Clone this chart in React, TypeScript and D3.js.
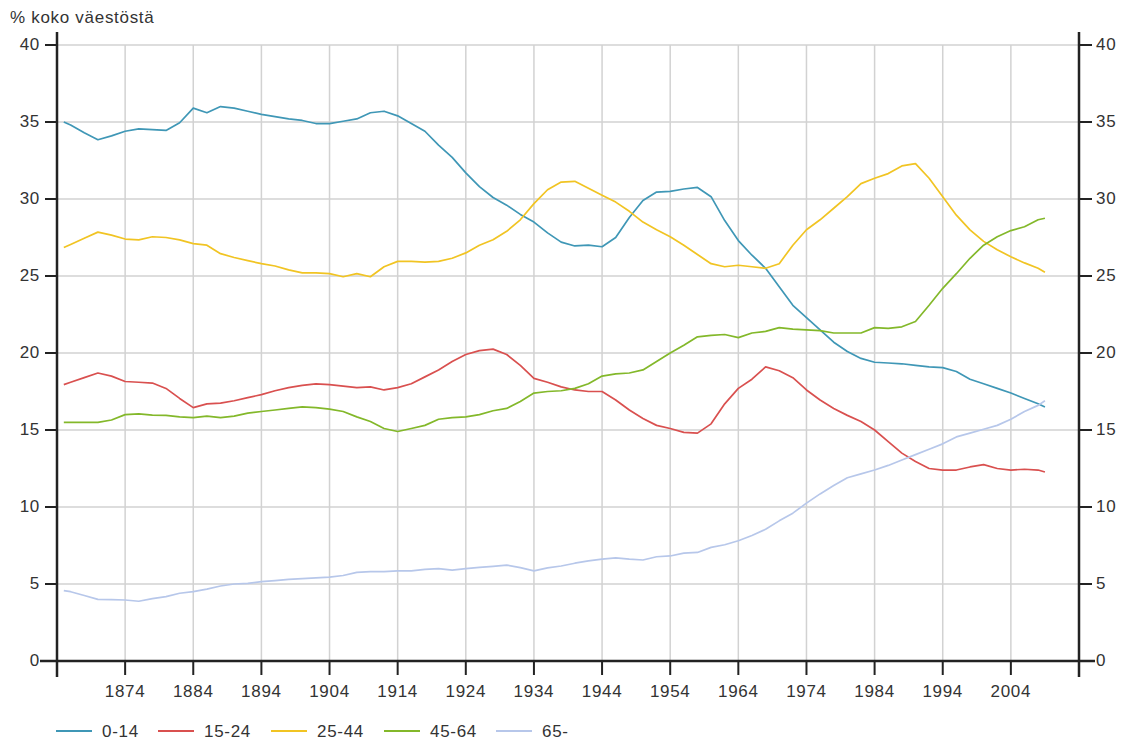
import React, { useEffect, useRef } from 'react'
import * as d3 from 'd3'

// vuodet (x-akseli)
const years = [
  1865, 1866, 1868, 1870, 1872, 1874, 1876, 1878, 1880, 1882, 1884, 1886, 1888, 1890, 1892,
  1894, 1896, 1898, 1900, 1902, 1904, 1906, 1908, 1910, 1912, 1914, 1916, 1918, 1920, 1922,
  1924, 1926, 1928, 1930, 1932, 1934, 1936, 1938, 1940, 1942, 1944, 1946, 1948, 1950, 1952,
  1954, 1956, 1958, 1960, 1962, 1964, 1966, 1968, 1970, 1972, 1974, 1976, 1978, 1980, 1982,
  1984, 1986, 1988, 1990, 1992, 1994, 1996, 1998, 2000, 2002, 2004, 2006, 2008, 2009,
]

const age0_14 = [
  35.0, 34.8, 34.3, 33.85, 34.1, 34.4, 34.55, 34.5, 34.45, 34.95, 35.9, 35.6, 36.0, 35.9, 35.7,
  35.5, 35.35, 35.2, 35.1, 34.9, 34.9, 35.05, 35.2, 35.6, 35.7, 35.4, 34.9, 34.4, 33.5, 32.7,
  31.7, 30.8, 30.1, 29.6, 29.0, 28.5, 27.8, 27.2, 26.95, 27.0, 26.9, 27.5, 28.8, 29.9, 30.45,
  30.5, 30.65, 30.75, 30.15, 28.6, 27.3, 26.35, 25.5, 24.3, 23.1, 22.3, 21.5, 20.7, 20.1, 19.65,
  19.4, 19.35, 19.3, 19.2, 19.1, 19.05, 18.8, 18.3, 18.0, 17.7, 17.4, 17.05, 16.7, 16.5,
]

const age15_24 = [
  17.95, 18.1, 18.4, 18.7, 18.5, 18.15, 18.1, 18.05, 17.7, 17.05, 16.45, 16.7, 16.75, 16.9, 17.1,
  17.3, 17.55, 17.75, 17.9, 18.0, 17.95, 17.85, 17.75, 17.8, 17.6, 17.75, 18.0, 18.45, 18.9, 19.45,
  19.9, 20.15, 20.25, 19.9, 19.2, 18.35, 18.1, 17.8, 17.6, 17.5, 17.5, 16.95, 16.3, 15.75, 15.3,
  15.1, 14.85, 14.8, 15.4, 16.7, 17.7, 18.3, 19.1, 18.85, 18.4, 17.6, 16.95, 16.4, 15.95, 15.55,
  15.0, 14.25, 13.5, 12.95, 12.5, 12.4, 12.4, 12.6, 12.75, 12.5, 12.4, 12.45, 12.4, 12.27,
]

const age25_44 = [
  26.85, 27.05, 27.45, 27.85, 27.65, 27.4, 27.35, 27.55, 27.5, 27.35, 27.1, 27.0, 26.45, 26.2, 26.0,
  25.8, 25.65, 25.4, 25.2, 25.2, 25.15, 24.95, 25.15, 24.95, 25.6, 25.95, 25.95, 25.9, 25.95, 26.15,
  26.5, 27.0, 27.35, 27.9, 28.65, 29.7, 30.6, 31.1, 31.15, 30.7, 30.25, 29.8, 29.2, 28.5, 28.0,
  27.55, 27.0, 26.4, 25.8, 25.6, 25.7, 25.6, 25.5, 25.8, 27.0, 28.0, 28.65, 29.4, 30.15, 31.0,
  31.35, 31.65, 32.15, 32.3, 31.35, 30.15, 28.95, 28.0, 27.25, 26.7, 26.25, 25.85, 25.5, 25.25,
]

const age45_64 = [
  15.5, 15.5, 15.5, 15.5, 15.65, 16.0, 16.05, 15.97, 15.95, 15.85, 15.8, 15.9, 15.8, 15.9, 16.1,
  16.2, 16.3, 16.4, 16.5, 16.45, 16.35, 16.2, 15.85, 15.55, 15.1, 14.9, 15.1, 15.3, 15.7, 15.8,
  15.85, 16.0, 16.25, 16.4, 16.85, 17.4, 17.5, 17.55, 17.7, 18.0, 18.5, 18.65, 18.7, 18.9, 19.45,
  20.0, 20.5, 21.05, 21.15, 21.2, 21.0, 21.3, 21.4, 21.65, 21.55, 21.5, 21.45, 21.3, 21.3, 21.3,
  21.65, 21.6, 21.7, 22.05, 23.1, 24.2, 25.15, 26.15, 27.0, 27.55, 27.95, 28.2, 28.65, 28.75,
]

const age65 = [
  4.57, 4.5, 4.25, 4.0, 3.98, 3.96, 3.88, 4.05, 4.18, 4.4, 4.5, 4.67, 4.87, 5.0, 5.04,
  5.15, 5.22, 5.3, 5.35, 5.4, 5.45, 5.55, 5.75, 5.8, 5.8, 5.85, 5.85, 5.95, 6.0, 5.9,
  6.0, 6.08, 6.15, 6.23, 6.06, 5.85, 6.05, 6.17, 6.35, 6.5, 6.62, 6.7, 6.62, 6.56, 6.77,
  6.82, 7.0, 7.05, 7.38, 7.55, 7.81, 8.15, 8.55, 9.1, 9.6, 10.25, 10.85, 11.4, 11.9, 12.15,
  12.4, 12.7, 13.05, 13.4, 13.75, 14.1, 14.55, 14.8, 15.05, 15.3, 15.7, 16.2, 16.6, 16.9,
]

const seriesNames = ['0-14', '15-24', '25-44', '45-64', '65-']
const seriesValues = [age0_14, age15_24, age25_44, age45_64, age65]
const seriesColors = ['#3f97b6', '#d9504f', '#f1c423', '#83b82a', '#b7c7ea']

const xTicks = [1874, 1884, 1894, 1904, 1914, 1924, 1934, 1944, 1954, 1964, 1974, 1984, 1994, 2004]
const yTicks = [0, 5, 10, 15, 20, 25, 30, 35, 40]

const App = () => {
  const svgRef = useRef<SVGSVGElement>(null)

  useEffect(() => {
    const svg = d3.select(svgRef.current)
    svg.selectAll('*').remove()

    const width = 1124
    const height = 740
    const font = '17px Liberation Sans, Arial, sans-serif'

    const x = d3.scaleLinear().domain([1864, 2014]).range([57, 1079])
    const y = d3.scaleLinear().domain([0, 40]).range([661, 45])

    svg.attr('width', width).attr('height', height)

    // title
    svg.append('text')
      .attr('x', 10).attr('y', 23)
      .style('font', font)
      .style('letter-spacing', '0.7px')
      .attr('fill', '#333')
      .text('% koko väestöstä')

    // grid
    const grid = svg.append('g').attr('stroke', '#d2d2d2').attr('stroke-width', 1.5)
    grid.selectAll('line.h')
      .data(yTicks.filter(d => d > 0))
      .join('line')
      .attr('x1', x(1864)).attr('x2', x(2014))
      .attr('y1', d => y(d)).attr('y2', d => y(d))
    grid.selectAll('line.v')
      .data(xTicks)
      .join('line')
      .attr('class', 'v')
      .attr('x1', d => x(d)).attr('x2', d => x(d))
      .attr('y1', y(40)).attr('y2', y(0))

    // lines
    const line = d3.line<number>()
      .x((d, i) => x(years[i]))
      .y(d => y(d))

    svg.append('g')
      .attr('fill', 'none')
      .attr('stroke-width', 1.7)
      .attr('stroke-linejoin', 'round')
      .selectAll('path')
      .data(seriesValues)
      .join('path')
      .attr('stroke', (d, i) => seriesColors[i])
      .attr('d', d => line(d))

    // axes
    const axes = svg.append('g').attr('stroke', '#222')
    axes.append('line')
      .attr('x1', 40).attr('x2', 1095)
      .attr('y1', y(0)).attr('y2', y(0))
      .attr('stroke-width', 2.5)
    axes.append('line')
      .attr('x1', x(1864)).attr('x2', x(1864))
      .attr('y1', 32).attr('y2', 677)
      .attr('stroke-width', 2.5)
    axes.append('line')
      .attr('x1', x(2014)).attr('x2', x(2014))
      .attr('y1', 32).attr('y2', 677)
      .attr('stroke-width', 2.5)

    axes.selectAll('line.yl')
      .data(yTicks)
      .join('line')
      .attr('class', 'yl')
      .attr('x1', 45).attr('x2', x(1864))
      .attr('y1', d => y(d)).attr('y2', d => y(d))
      .attr('stroke-width', 2)
    axes.selectAll('line.yr')
      .data(yTicks)
      .join('line')
      .attr('class', 'yr')
      .attr('x1', x(2014)).attr('x2', 1092)
      .attr('y1', d => y(d)).attr('y2', d => y(d))
      .attr('stroke-width', 2)
    axes.selectAll('line.xt')
      .data(xTicks)
      .join('line')
      .attr('class', 'xt')
      .attr('x1', d => x(d)).attr('x2', d => x(d))
      .attr('y1', y(0)).attr('y2', 675)
      .attr('stroke-width', 2)

    const labels = svg.append('g')
      .style('font', font)
      .style('letter-spacing', '0.7px')
      .attr('fill', '#333')

    labels.selectAll('text.yl')
      .data(yTicks)
      .join('text')
      .attr('class', 'yl')
      .attr('x', 40)
      .attr('y', d => y(d) + 5)
      .attr('text-anchor', 'end')
      .text(d => d)
    labels.selectAll('text.yr')
      .data(yTicks)
      .join('text')
      .attr('class', 'yr')
      .attr('x', 1096)
      .attr('y', d => y(d) + 5)
      .text(d => d)
    labels.selectAll('text.xl')
      .data(xTicks)
      .join('text')
      .attr('class', 'xl')
      .attr('x', d => x(d))
      .attr('y', 697)
      .attr('text-anchor', 'middle')
      .text(d => d)

    // legend
    const legendX = [56, 158, 271, 384, 496]
    const legend = svg.append('g')
      .selectAll('g')
      .data(seriesNames)
      .join('g')
      .attr('transform', (d, i) => `translate(${legendX[i]},731)`)
    legend.append('line')
      .attr('x1', 0).attr('x2', 36)
      .attr('stroke', (d, i) => seriesColors[i])
      .attr('stroke-width', 2)
    legend.append('text')
      .attr('x', 46).attr('y', 6)
      .style('font', font)
      .style('letter-spacing', '0.7px')
      .attr('fill', '#333')
      .text(d => d)
  }, [])

  return <svg ref={svgRef} style={{ position: 'absolute', left: 0, top: 0 }} />
}

export default App
